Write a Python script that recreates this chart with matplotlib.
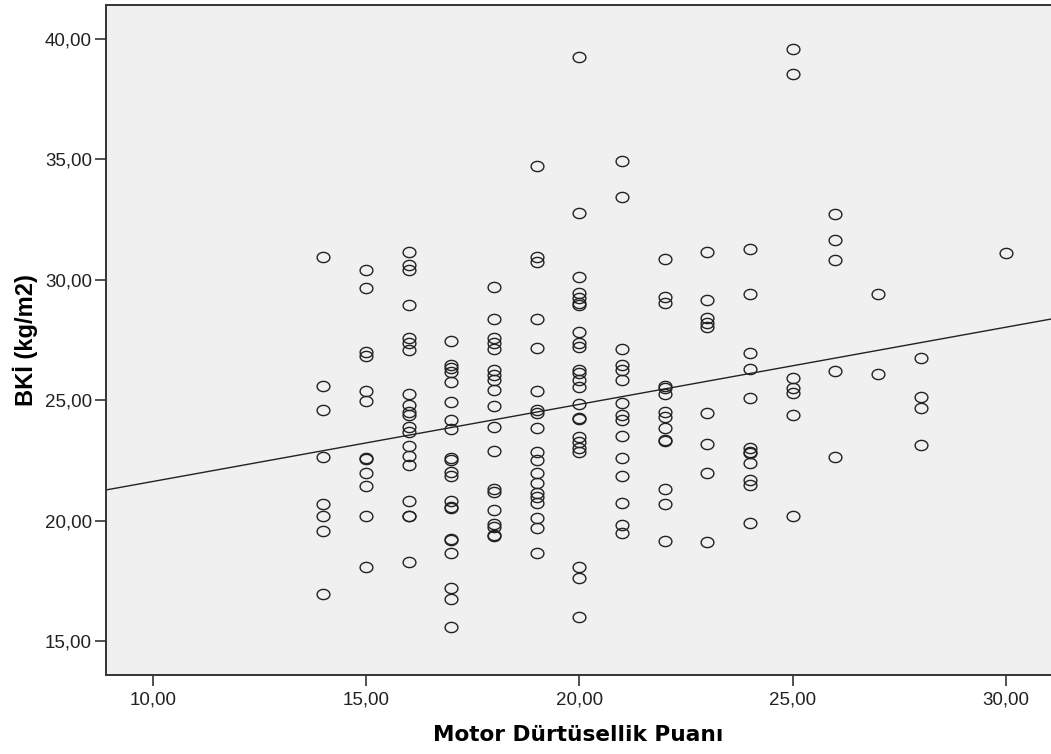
import matplotlib
matplotlib.use("Agg")
import matplotlib.pyplot as plt
from matplotlib.path import Path
import numpy as np

# Motor Dürtüsellik Puanı (x) and BKİ values (y), read per column
col_x = [14, 15, 16, 17, 18, 19, 20, 21, 22, 23, 24, 25, 26, 27, 28, 30]
col_y = [
    [30.95, 25.6, 24.6, 22.65, 20.68, 20.19, 19.58, 16.95],                      # 14
    [30.39, 29.63, 27.0, 26.83, 25.39, 24.95, 22.6, 22.55, 21.96, 21.44,
     20.19, 18.06],                                                              # 15
    [31.15, 30.6, 30.39, 28.94, 27.56, 27.35, 27.07, 25.25, 24.79, 24.51,
     24.38, 23.89, 23.68, 23.1, 22.68, 22.3, 20.81, 20.19, 20.17, 18.28],        # 16
    [27.46, 26.45, 26.31, 26.17, 25.73, 24.9, 24.17, 23.8, 22.6, 22.5, 22.0,
     21.85, 20.81, 20.57, 20.54, 19.22, 19.2, 18.66, 17.19, 16.73, 15.6],        # 17
    [29.7, 28.35, 27.56, 27.35, 27.1, 26.24, 26.04, 25.83, 25.41, 24.76,
     23.89, 22.88, 21.3, 21.2, 20.44, 19.85, 19.72, 19.4, 19.35],                # 18
    [34.72, 30.95, 30.74, 28.38, 27.14, 25.39, 24.58, 24.45, 23.85, 22.86,
     22.51, 21.96, 21.57, 21.15, 20.99, 20.71, 20.09, 19.68, 18.66],             # 19
    [39.22, 32.75, 30.09, 29.43, 29.22, 29.01, 28.94, 27.81, 27.35, 27.21,
     26.24, 26.11, 25.83, 25.53, 24.83, 24.26, 24.22, 23.48, 23.27, 23.0,
     22.86, 18.08, 17.63, 16.01],                                                # 20
    [34.93, 33.44, 27.12, 26.45, 26.24, 25.83, 24.89, 24.38, 24.17, 23.52,
     22.58, 21.86, 20.71, 19.81, 19.47],                                         # 21
    [30.85, 29.29, 29.04, 25.6, 25.48, 25.25, 24.51, 24.31, 23.82, 23.36,
     23.32, 21.29, 20.68, 19.15],                                                # 22
    [31.15, 29.15, 28.39, 28.18, 28.04, 24.47, 23.17, 21.96, 19.12],             # 23
    [31.25, 29.4, 26.94, 26.29, 25.1, 23.0, 22.85, 22.79, 22.37, 21.68,
     21.47, 19.91],                                                              # 24
    [39.56, 38.53, 25.9, 25.48, 25.28, 24.38, 20.19],                            # 25
    [32.7, 31.64, 30.81, 26.22, 22.65],                                          # 26
    [29.4, 26.1],                                                                # 27
    [26.73, 25.14, 24.66, 23.13],                                                # 28
    [31.09],                                                                     # 30
]

# fitted line
fit_intercept = 18.42
fit_slope = 0.32

x_ticks = [10, 15, 20, 25, 30]
y_ticks = [15, 20, 25, 30, 35, 40]
x_label = "Motor Dürtüsellik Puanı"
y_label = "BKİ (kg/m2)"

xs = np.concatenate([[cx] * len(cy) for cx, cy in zip(col_x, col_y)])
ys = np.concatenate([np.array(cy, dtype=float) for cy in col_y])

# slightly flattened open circle marker
t = np.linspace(0, 2 * np.pi, 60)
ell = Path(np.column_stack([np.cos(t), 0.8 * np.sin(t)]), closed=True)

fig = plt.figure(figsize=(10.51, 7.54), dpi=100)
ax = fig.add_axes([106 / 1051, 1 - 675 / 754, 1 - 106 / 1051, (675 - 5) / 754])
ax.set_facecolor("#F0F0F0")

xlim = (8.9, 31.06)
ylim = (13.59, 41.39)
ax.set_xlim(*xlim)
ax.set_ylim(*ylim)

ax.plot(xs, ys, linestyle="none", marker=ell, markersize=9.2,
        markerfacecolor="none", markeredgecolor="#222222", markeredgewidth=1.0)

lx = np.array(xlim)
ax.plot(lx, fit_intercept + fit_slope * lx, color="#222222", linewidth=1.0)

ax.set_xticks(x_ticks)
ax.set_yticks(y_ticks)
ax.set_xticklabels([f"{v:.2f}".replace(".", ",") for v in x_ticks],
                   fontfamily="Liberation Sans", fontsize=13.5, color="#222222")
ax.set_yticklabels([f"{v:.2f}".replace(".", ",") for v in y_ticks],
                   fontfamily="Liberation Sans", fontsize=13.5, color="#222222")
ax.tick_params(direction="out", length=8, width=1.2, color="#333333", pad=2)
ax.tick_params(axis="x", pad=4)

for s in ["left", "bottom", "top"]:
    ax.spines[s].set_linewidth(1.4)
    ax.spines[s].set_color("#333333")
ax.spines["right"].set_visible(False)

ax.set_xlabel(x_label, fontfamily="DejaVu Sans", fontweight="bold",
              fontsize=15.6, labelpad=12)
ax.set_ylabel(y_label, fontfamily="Liberation Sans", fontweight="bold",
              fontsize=17, labelpad=5)

fig.savefig("out.png", dpi=100, facecolor="white")
